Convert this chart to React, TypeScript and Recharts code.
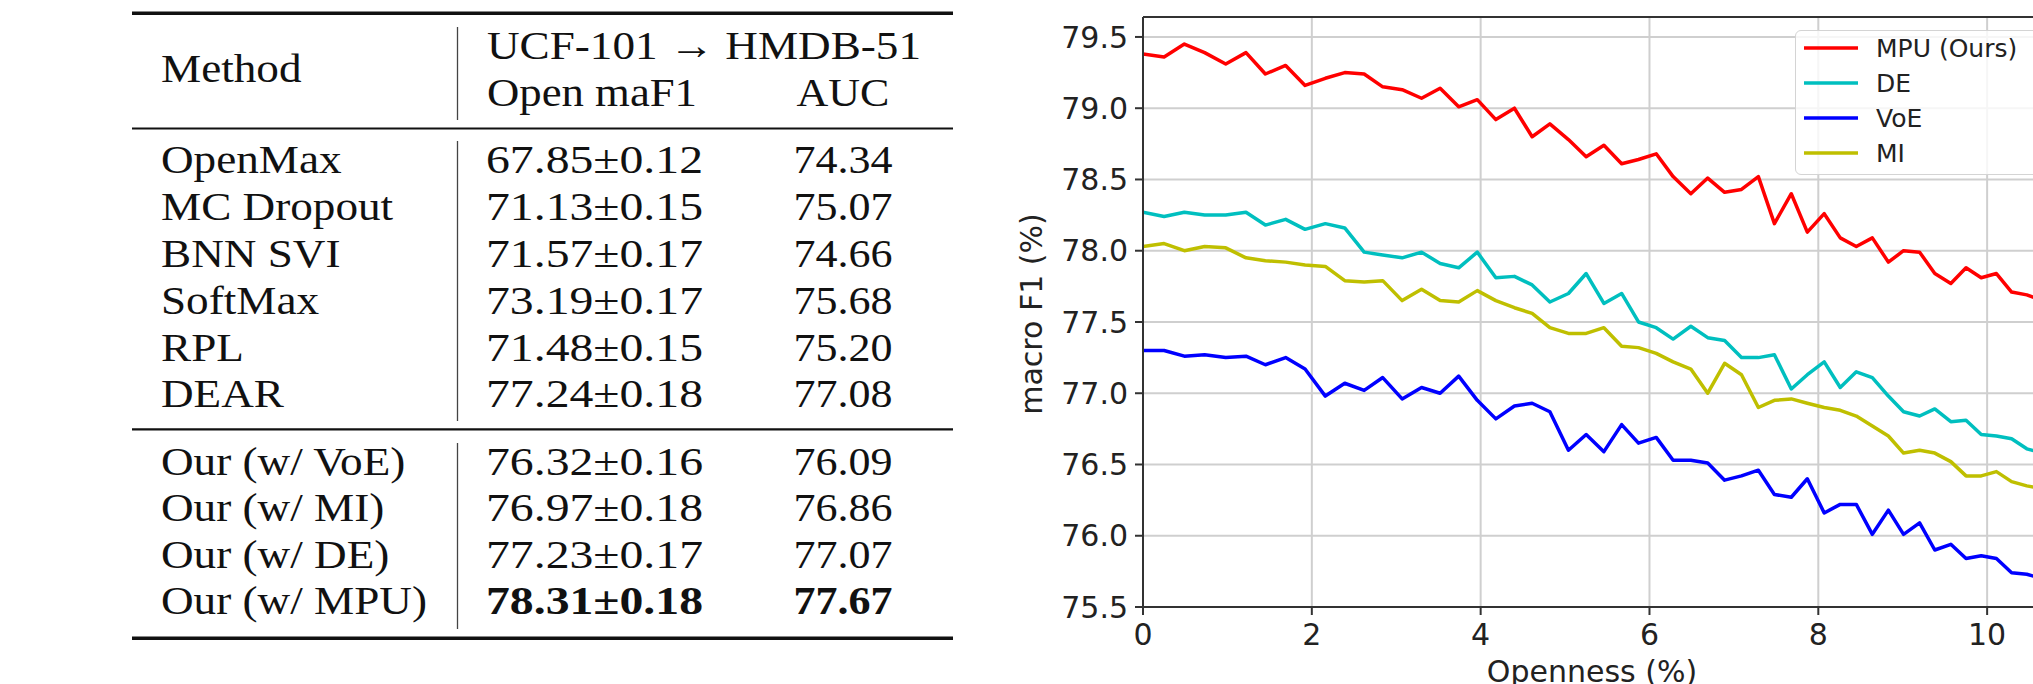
import { LineChart, Line, XAxis, YAxis, CartesianGrid, ReferenceLine } from 'recharts';

// openness (%) for 0..51 unknown classes
const OPENNESS = [
    0, 0.25, 0.49, 0.73, 0.98, 1.22, 1.45, 1.69, 1.92, 2.16, 2.39, 2.62, 2.84, 3.07, 3.3, 3.52, 3.74, 3.96,
    4.18, 4.4, 4.61, 4.82, 5.04, 5.25, 5.46, 5.67, 5.87, 6.08, 6.28, 6.49, 6.69, 6.89, 7.09, 7.29, 7.48, 7.68,
    7.87, 8.07, 8.26, 8.45, 8.64, 8.83, 9.01, 9.2, 9.38, 9.57, 9.75, 9.93, 10.11, 10.29, 10.47, 10.65,
];

const MPU = [
    79.38, 79.36, 79.45, 79.39, 79.31, 79.39, 79.24, 79.3, 79.16, 79.21, 79.25, 79.24, 79.15, 79.13, 79.07, 79.14,
    79.01, 79.06, 78.92, 79.0, 78.8, 78.89, 78.78, 78.66, 78.74, 78.61, 78.64, 78.68, 78.52, 78.4, 78.51, 78.41,
    78.43, 78.52, 78.19, 78.4, 78.13, 78.26, 78.09, 78.03, 78.09, 77.92, 78.0, 77.99, 77.84, 77.77, 77.88, 77.81,
    77.84, 77.71, 77.69, 77.65,
];
const DE = [
    78.27, 78.24, 78.27, 78.25, 78.25, 78.27, 78.18, 78.22, 78.15, 78.19, 78.16, 77.99, 77.97, 77.95, 77.99, 77.91,
    77.88, 77.99, 77.81, 77.82, 77.76, 77.64, 77.7, 77.84, 77.63, 77.7, 77.5, 77.46, 77.38, 77.47, 77.39, 77.37,
    77.25, 77.25, 77.27, 77.03, 77.13, 77.22, 77.04, 77.15, 77.11, 76.98, 76.87, 76.84, 76.89, 76.8, 76.81, 76.71,
    76.7, 76.68, 76.61, 76.58,
];
const VOE = [
    77.3, 77.3, 77.26, 77.27, 77.25, 77.26, 77.2, 77.25, 77.17, 76.98, 77.07, 77.02, 77.11, 76.96, 77.04, 77.0,
    77.12, 76.95, 76.82, 76.91, 76.93, 76.87, 76.6, 76.71, 76.59, 76.78, 76.65, 76.69, 76.53, 76.53, 76.51, 76.39,
    76.42, 76.46, 76.29, 76.27, 76.4, 76.16, 76.22, 76.22, 76.01, 76.18, 76.01, 76.09, 75.9, 75.94, 75.84, 75.86,
    75.84, 75.74, 75.73, 75.7,
];
const MI = [
    78.03, 78.05, 78.0, 78.03, 78.02, 77.95, 77.93, 77.92, 77.9, 77.89, 77.79, 77.78, 77.79, 77.65, 77.73, 77.65,
    77.64, 77.72, 77.65, 77.6, 77.56, 77.46, 77.42, 77.42, 77.46, 77.33, 77.32, 77.28, 77.22, 77.17, 77.0, 77.21,
    77.13, 76.9, 76.95, 76.96, 76.93, 76.9, 76.88, 76.84, 76.77, 76.7, 76.58, 76.6, 76.58, 76.52, 76.42, 76.42,
    76.45, 76.38, 76.35, 76.33,
];

const X_TICKS = [0, 2, 4, 6, 8, 10];
const Y_TICKS = [75.5, 76, 76.5, 77, 77.5, 78, 78.5, 79, 79.5];
const Y_MAX = 79.64;

const SERIES = [
    { key: 'mpu', name: 'MPU (Ours)', color: '#ff0000' },
    { key: 'de', name: 'DE', color: '#00bfbf' },
    { key: 'voe', name: 'VoE', color: '#0000ff' },
    { key: 'mi', name: 'MI', color: '#bfbf00' },
];

// table contents
const BASELINES = ['OpenMax', 'MC Dropout', 'BNN SVI', 'SoftMax', 'RPL', 'DEAR'];
const BASELINE_F1 = ['67.85±0.12', '71.13±0.15', '71.57±0.17', '73.19±0.17', '71.48±0.15', '77.24±0.18'];
const BASELINE_AUC = ['74.34', '75.07', '74.66', '75.68', '75.20', '77.08'];
const OURS = ['Our (w/ VoE)', 'Our (w/ MI)', 'Our (w/ DE)', 'Our (w/ MPU)'];
const OURS_F1 = ['76.32±0.16', '76.97±0.18', '77.23±0.17', '78.31±0.18'];
const OURS_AUC = ['76.09', '76.86', '77.07', '77.67'];

const data = OPENNESS.map((x, i) => ({ x, mpu: MPU[i], de: DE[i], voe: VOE[i], mi: MI[i] }));

const SERIF = "'Liberation Serif', 'Times New Roman', serif";
const SANS = "'DejaVu Sans', sans-serif";

// serif cell text, slightly wider than plain Times like the LaTeX render
function T({ x, y, children, bold, anchor = 'start', sx = 1.13, len }: any) {
    return (
        <text
            transform={`translate(${x} ${y}) scale(${sx} 1)`}
            textAnchor={anchor}
            fontFamily={SERIF}
            fontSize={40}
            fontWeight={bold ? 700 : 400}
            fill="#111"
            textLength={len ? len / sx : undefined}
            lengthAdjust={len ? 'spacingAndGlyphs' : undefined}
        >
            {children}
        </text>
    );
}

function ResultsTable() {
    const rule = (y: number, w: number) => <line x1={132} x2={953} y1={y} y2={y} stroke="#111" strokeWidth={w} />;
    const vx = 457.5;
    return (
        <svg width={1000} height={684} style={{ position: 'absolute', left: 0, top: 0 }}>
            {rule(13.3, 3.4)}
            {rule(128.6, 2)}
            {rule(429.3, 2.2)}
            {rule(638.3, 3.4)}
            <line x1={vx} x2={vx} y1={27} y2={120} stroke="#444" strokeWidth={1.3} />
            <line x1={vx} x2={vx} y1={141} y2={421} stroke="#444" strokeWidth={1.3} />
            <line x1={vx} x2={vx} y1={443} y2={629} stroke="#444" strokeWidth={1.3} />
            <T x={161} y={82}>Method</T>
            <T x={487} y={59} len={434}>UCF-101 → HMDB-51</T>
            <T x={487} y={105.5} len={210}>Open maF1</T>
            <T x={843} y={105.5} anchor="middle" sx={1.1}>AUC</T>
            {BASELINES.map((m, i) => {
                const y = 173.3 + i * 46.8;
                return (
                    <g key={m}>
                        <T x={161} y={y}>{m}</T>
                        <T x={486} y={y} len={217}>{BASELINE_F1[i]}</T>
                        <T x={843} y={y} anchor="middle" sx={1.1}>{BASELINE_AUC[i]}</T>
                    </g>
                );
            })}
            {OURS.map((m, i) => {
                const y = 475 + i * 46.3;
                const best = i === OURS.length - 1;
                return (
                    <g key={m}>
                        <T x={161} y={y}>{m}</T>
                        <T x={486} y={y} bold={best} len={217}>{OURS_F1[i]}</T>
                        <T x={843} y={y} bold={best} anchor="middle" sx={1.1}>{OURS_AUC[i]}</T>
                    </g>
                );
            })}
        </svg>
    );
}

function ChartLegend() {
    return (
        <div
            style={{
                position: 'absolute',
                left: 1795,
                top: 30,
                width: 260,
                height: 145,
                boxSizing: 'border-box',
                border: '1.5px solid #d4d4d4',
                borderRadius: 6,
                background: 'rgba(255,255,255,0.8)',
            }}
        >
            <svg width={260} height={145}>
                {SERIES.map((s, i) => {
                    const y = 17 + i * 35;
                    return (
                        <g key={s.key}>
                            <line x1={8} x2={62} y1={y} y2={y} stroke={s.color} strokeWidth={3.5} />
                            <text x={80} y={y} dy="0.36em" fontFamily={SANS} fontSize={25} fill="#222">
                                {s.name}
                            </text>
                        </g>
                    );
                })}
            </svg>
        </div>
    );
}

export default function App() {
    const tickStyle = { fill: '#222', fontSize: 30, fontFamily: SANS };
    return (
        <div
            style={{
                position: 'absolute',
                left: 0,
                top: 0,
                width: 2033,
                height: 684,
                overflow: 'hidden',
                background: '#fff',
            }}
        >
            <ResultsTable />
            <div style={{ position: 'absolute', left: 1000, top: 0 }}>
                <LineChart width={1060} height={684} data={data} margin={{ top: 17, right: 18, bottom: 0, left: 0 }}>
                    <CartesianGrid stroke="#cfcfcf" strokeWidth={2} />
                    <XAxis
                        type="number"
                        dataKey="x"
                        domain={[0, 10.65]}
                        ticks={X_TICKS}
                        height={77}
                        tickSize={8}
                        tickMargin={9}
                        tick={tickStyle}
                        axisLine={{ stroke: '#333', strokeWidth: 2 }}
                        tickLine={{ stroke: '#333', strokeWidth: 2 }}
                        allowDataOverflow
                        label={{
                            content: () => (
                                <text x={592} y={682} textAnchor="middle" fontFamily={SANS} fontSize={30} fill="#222">
                                    Openness (%)
                                </text>
                            ),
                        }}
                    />
                    <YAxis
                        type="number"
                        domain={[75.5, Y_MAX]}
                        ticks={Y_TICKS}
                        width={143}
                        tickSize={8}
                        tickMargin={7}
                        tick={tickStyle}
                        tickFormatter={(v: number) => v.toFixed(1)}
                        axisLine={{ stroke: '#333', strokeWidth: 2 }}
                        tickLine={{ stroke: '#333', strokeWidth: 2 }}
                        allowDataOverflow
                        label={{
                            content: () => (
                                <text
                                    x={31}
                                    y={314}
                                    transform="rotate(-90 31 314)"
                                    textAnchor="middle"
                                    dy="0.36em"
                                    fontFamily={SANS}
                                    fontSize={30}
                                    fill="#222"
                                >
                                    macro F1 (%)
                                </text>
                            ),
                        }}
                    />
                    <ReferenceLine y={Y_MAX} stroke="#333" strokeWidth={2} />
                    {SERIES.map((s) => (
                        <Line
                            key={s.key}
                            type="linear"
                            dataKey={s.key}
                            name={s.name}
                            stroke={s.color}
                            strokeWidth={3.5}
                            strokeLinejoin="round"
                            dot={false}
                            isAnimationActive={false}
                        />
                    ))}
                </LineChart>
            </div>
            <ChartLegend />
        </div>
    );
}
